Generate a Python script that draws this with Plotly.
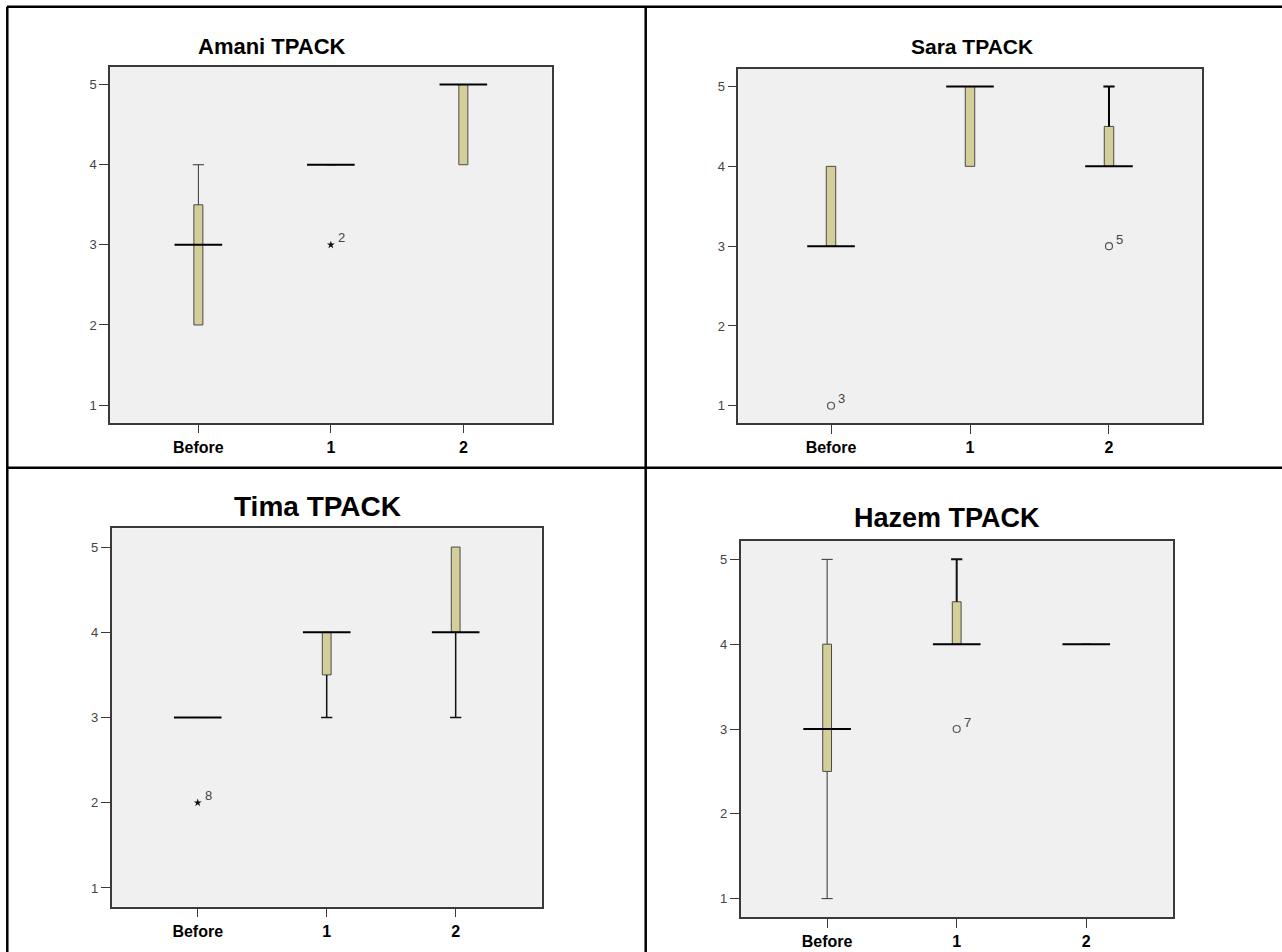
import plotly.graph_objects as go

# ---------------- data ----------------
categories = ["Before", "1", "2"]

titles = ["Amani TPACK", "Sara TPACK", "Tima TPACK", "Hazem TPACK"]

amani_q1 = [2, 4, 4]
amani_median = [3, 4, 5]
amani_q3 = [3.5, 4, 5]
amani_low = [2, 4, 4]
amani_high = [4, 4, 5]
amani_outliers = [(1, 3, "2", "star")]

sara_q1 = [3, 4, 4]
sara_median = [3, 5, 4]
sara_q3 = [4, 5, 4.5]
sara_low = [3, 4, 4]
sara_high = [4, 5, 5]
sara_outliers = [(0, 1, "3", "circle"), (2, 3, "5", "circle")]

tima_q1 = [3, 3.5, 4]
tima_median = [3, 4, 4]
tima_q3 = [3, 4, 5]
tima_low = [3, 3, 3]
tima_high = [3, 4, 5]
tima_outliers = [(0, 2, "8", "star")]

hazem_q1 = [2.5, 4, 4]
hazem_median = [3, 4, 4]
hazem_q3 = [4, 4.5, 4]
hazem_low = [1, 4, 4]
hazem_high = [5, 5, 4]
hazem_outliers = [(1, 3, "7", "circle")]

y_ticks = [1, 2, 3, 4, 5]

panels_data = [
    (amani_q1, amani_median, amani_q3, amani_low, amani_high, amani_outliers),
    (sara_q1, sara_median, sara_q3, sara_low, sara_high, sara_outliers),
    (tima_q1, tima_median, tima_q3, tima_low, tima_high, tima_outliers),
    (hazem_q1, hazem_median, hazem_q3, hazem_low, hazem_high, hazem_outliers),
]

# ---------------- layout / style ----------------
W, H = 1282, 952


def px(x):
    return x / W


def py(y):
    return 1 - y / H


# plot-area pixel boxes (left, right, top, bottom)
boxes = [
    (110, 551.7, 67, 422.7),
    (738.3, 1201.7, 69, 423.3),
    (111.7, 541.7, 528.3, 906.7),
    (740.7, 1172.7, 540.7, 917.3),
]
# title pixel centers and sizes
title_pos = [(272, 46, 22), (972, 46, 21), (317, 506, 28), (947, 518, 27)]
# whisker line widths per panel & category
whisker_w = [[1, 1, 1], [2, 2, 2], [1.5, 1.5, 1.5], [1, 2, 2]]
whisker_c = [["#333", "#333", "#333"], ["#000", "#000", "#000"],
             ["#111", "#111", "#111"], ["#333", "#111", "#111"]]

BOX_FILL = "#d4cf99"
BOX_EDGE = "#4a4a4a"
FRAME = "#3a3a3a"

fig = go.Figure()
xs = list(range(len(categories)))

for i, (q1, med, q3, lo, hi, outs) in enumerate(panels_data):
    n = i + 1
    xa = "x" if n == 1 else f"x{n}"
    ya = "y" if n == 1 else f"y{n}"

    # whiskers (stems)
    for j in xs:
        segs = []
        if hi[j] > q3[j]:
            segs.append((q3[j], hi[j]))
        if lo[j] < q1[j]:
            segs.append((lo[j], q1[j]))
        for a, b in segs:
            fig.add_trace(go.Scatter(
                x=[j, j], y=[a, b], mode="lines", xaxis=xa, yaxis=ya,
                line=dict(color=whisker_c[i][j], width=whisker_w[i][j]),
                hoverinfo="skip", showlegend=False))
        caps = []
        if hi[j] > q3[j]:
            caps.append(hi[j])
        if lo[j] < q1[j]:
            caps.append(lo[j])
        if caps:
            fig.add_trace(go.Scatter(
                x=[j] * len(caps), y=caps, mode="markers", xaxis=xa, yaxis=ya,
                marker=dict(symbol="line-ew", size=8,
                            line=dict(color=whisker_c[i][j], width=max(1, whisker_w[i][j]))),
                hoverinfo="skip", showlegend=False))

    # boxes
    fig.add_trace(go.Bar(
        x=xs, y=[b - a for a, b in zip(q1, q3)], base=q1, width=0.068,
        xaxis=xa, yaxis=ya,
        marker=dict(color=BOX_FILL, line=dict(color=BOX_EDGE, width=1)),
        hoverinfo="skip", showlegend=False))

    # medians
    fig.add_trace(go.Scatter(
        x=xs, y=med, mode="markers", xaxis=xa, yaxis=ya,
        marker=dict(symbol="line-ew", size=34, line=dict(color="#000", width=2)),
        hoverinfo="skip", showlegend=False))

    # outliers
    for (c, v, lab, kind) in outs:
        if kind == "star":
            mk = dict(symbol="star", size=6, color="#111", line=dict(width=0))
        else:
            mk = dict(symbol="circle-open", size=7, color="#555", line=dict(width=1.2, color="#555"))
        fig.add_trace(go.Scatter(
            x=[c], y=[v], mode="markers", xaxis=xa, yaxis=ya, marker=mk,
            hoverinfo="skip", showlegend=False))
        fig.add_annotation(x=c, y=v, xref=xa, yref=ya, text=lab, showarrow=False,
                           xanchor="left", yanchor="middle", xshift=5, yshift=7,
                           font=dict(family="Arial", size=13, color="#444"))

    l, r, t, b = boxes[i]
    fig.update_layout(**{
        ("xaxis" if n == 1 else f"xaxis{n}"): dict(
            domain=[px(l), px(r)], anchor=ya, range=[-0.667, 2.667],
            tickvals=xs, ticktext=categories, ticks="outside", ticklen=9,
            tickcolor=FRAME, tickwidth=1,
            tickfont=dict(family="Arial", size=16, color="#000", weight="bold"),
            showline=True, linecolor=FRAME, linewidth=1.5, mirror=True,
            showgrid=False, zeroline=False, fixedrange=True),
        ("yaxis" if n == 1 else f"yaxis{n}"): dict(
            domain=[py(b), py(t)], anchor=xa, range=[0.78, 5.22],
            tickvals=y_ticks, ticks="outside", ticklen=9,
            tickcolor=FRAME, tickwidth=1,
            tickfont=dict(family="Arial", size=13, color="#444"),
            showline=True, linecolor=FRAME, linewidth=1.5, mirror=True,
            showgrid=False, zeroline=False, fixedrange=True),
    })

    tx, ty, ts = title_pos[i]
    fig.add_annotation(text="<b>" + titles[i] + "</b>", x=px(tx), y=py(ty),
                       xref="paper", yref="paper", showarrow=False,
                       xanchor="center", yanchor="middle",
                       font=dict(family="Arial", size=ts, color="#000"))

    # plot-area background
    fig.add_shape(type="rect", xref="paper", yref="paper",
                  x0=px(l), x1=px(r), y0=py(b), y1=py(t),
                  fillcolor="#f0f0f0", line=dict(width=0), layer="below")

# table lines
line_style = dict(color="#000", width=2.5)
fig.add_shape(type="line", xref="paper", yref="paper", x0=px(7), x1=1, y0=py(6.7), y1=py(6.7), line=line_style)
fig.add_shape(type="line", xref="paper", yref="paper", x0=px(7.3), x1=px(7.3), y0=0, y1=py(6.7), line=line_style)
fig.add_shape(type="line", xref="paper", yref="paper", x0=px(645.7), x1=px(645.7), y0=0, y1=py(6.7), line=line_style)
fig.add_shape(type="line", xref="paper", yref="paper", x0=px(7.3), x1=1, y0=py(467.7), y1=py(467.7), line=line_style)

fig.update_layout(
    width=W, height=H, margin=dict(l=0, r=0, t=0, b=0),
    paper_bgcolor="#ffffff", plot_bgcolor="rgba(0,0,0,0)",
    barmode="overlay", showlegend=False,
)

fig.write_html("out.html", config={"displayModeBar": False},
               post_script="document.body.style.margin='0';document.body.style.overflow='hidden';")
